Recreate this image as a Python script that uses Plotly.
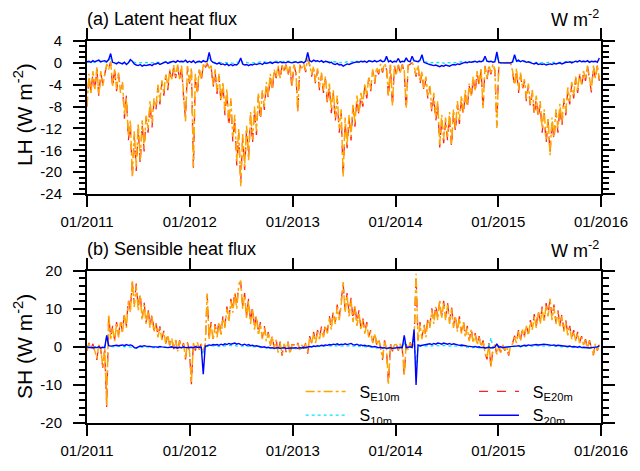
import pandas as pd
import plotly.graph_objects as go

# Weekly samples, 2011-01-01 .. 2015-12-26
dates = pd.date_range("2011-01-01", periods=261, freq="7D")

# ---- (a) latent heat flux, W m-2 ----
lh_e10m = [
    # 2011
    -7.8, -2.0, -5.8, -1.5, -4.8,  -0.8, -5.8, -1.5, -4.2,  -1.8, -0.2, -1.2, 0.1,
    -4.2, -1.2, -4.8, -1.8, -5.5,  -3.5, -9.5, -6.5, -13.5,  -10.5, -20.8, -12.5, -19.0,
    -11.0, -17.8, -10.5, -15.5, -9.5,  -12.0, -7.0, -11.0, -6.5,  -8.0, -4.0, -7.0, -3.2,
    -5.5, -2.0, -4.5, -1.2, -3.0,  -0.4, -2.5, -0.3, -3.0,  -0.5, -5.8, -10.7, -0.6, -3.5,
    # 2012
    -1.0, -19.0, -2.0, -5.5,  -1.0, -3.0, -0.3, -0.8,  0.0, -1.0, -0.5, -4.0, -1.2,
    -5.2, -2.0, -6.8, -3.5,  -9.0, -4.8, -11.0, -6.5,  -13.5, -9.5, -18.0, -12.0, -22.6,
    -13.0, -19.0, -11.5, -17.8,  -9.0, -14.0, -8.0, -12.5,  -5.5, -10.0, -5.0, -8.0, -3.5,
    -6.0, -2.0, -4.8, -1.2,  -2.5, -0.5, -2.8, -0.4,  -1.5, -0.2, -2.0, -0.5, -4.2,
    # 2013
    -0.3, -1.5, -8.9, -0.3,  -1.0, -0.1, -1.4, 0.8,  -0.3, -2.2, -0.6, -3.5, -1.0,
    -4.5, -1.8, -5.0, -2.5,  -7.0, -3.8, -8.5, -5.0,  -10.0, -6.0, -12.0, -8.5, -20.8,
    -10.0, -15.0, -9.5, -13.5,  -7.5, -11.0, -6.0, -9.0, -5.5,  -7.5, -3.8, -6.0, -2.5,
    -4.8, -1.2, -3.5, -0.8,  -1.8, -0.2, -1.5, -0.1, -1.0,  -6.0, -0.3, -7.8, -0.5,
    # 2014
    -2.0, -0.3, -1.8, -0.2,  -1.5, -8.2, -0.4, -0.1,  0.0, -0.6, -2.2, -0.4, -3.5,
    -1.5, -4.8, -2.5, -6.0,  -4.0, -8.5, -5.5, -10.0, -7.0,  -15.1, -9.5, -14.0, -10.0,
    -13.5, -9.0, -15.0, -8.5,  -12.0, -7.0, -10.5, -6.0, -9.0,  -5.0, -7.8, -3.8, -6.0,
    -2.5, -5.0, -1.5, -3.8,  -1.0, -8.3, -0.5, -2.8, -0.4,  -1.8, -0.2, -1.2, -11.9,
    # 2015
    0.0, 0.0, -0.1, 0.0, 0.0,  -0.1, 0.0, -1.5, -4.0,  -1.0, -5.0, -1.8, -4.5,
    -3.0, -6.5, -3.8, -7.5,  -5.0, -9.0, -6.0, -9.5, -7.0,  -12.0, -8.5, -14.0, -10.0,
    -16.9, -10.0, -13.5, -8.5,  -12.0, -7.5, -11.0, -6.5, -9.0,  -4.5, -7.0, -3.5, -6.0,
    -2.5, -5.0, -2.0, -4.0, -1.5,  -3.0, -0.5, -2.5, -5.0,  -0.5, -2.8, -0.4, -3.0,
]
lh_e20m = [
    # 2011
    -8.0, -2.4, -5.4, -1.9, -5.2,  -1.0, -6.2, -1.8, -3.9,  -2.0, -0.3, -1.0, 0.2,
    -4.6, -1.0, -5.2, -2.1, -5.0,  -3.9, -10.2, -6.0, -14.2,  -11.2, -21.0, -13.4, -19.8,
    -11.8, -18.6, -11.2, -16.2, -10.0,  -12.8, -7.6, -11.8, -7.0,  -8.6, -4.5, -7.6, -3.6,
    -6.0, -2.3, -5.0, -1.5, -3.4,  -0.6, -2.8, -0.5, -3.3,  -0.7, -6.2, -10.2, -0.8, -3.8,
    # 2012
    -1.3, -19.3, -2.4, -6.0,  -1.3, -3.4, -0.4, -1.0,  0.0, -1.2, -0.7, -4.4, -1.5,
    -5.7, -2.4, -7.4, -3.9,  -9.6, -5.3, -11.8, -7.0,  -14.4, -10.2, -18.8, -12.8, -22.0,
    -13.8, -19.6, -12.2, -17.2,  -9.6, -14.8, -8.6, -13.2,  -6.0, -10.6, -5.4, -8.6, -3.9,
    -6.5, -2.3, -5.3, -1.5,  -2.8, -0.7, -3.1, -0.5,  -1.7, -0.3, -2.3, -0.7, -4.6,
    # 2013
    -0.4, -1.8, -9.3, -0.4,  -1.2, -0.2, -1.7, 0.6,  -0.4, -2.5, -0.8, -3.9, -1.3,
    -5.0, -2.1, -5.5, -2.9,  -7.6, -4.2, -9.2, -5.5,  -10.8, -6.6, -12.8, -9.2, -21.0,
    -10.8, -15.6, -10.2, -14.2,  -8.1, -11.7, -6.6, -9.6, -6.0,  -8.0, -4.2, -6.5, -2.8,
    -5.2, -1.4, -3.9, -1.0,  -2.1, -0.3, -1.8, -0.2, -1.2,  -6.4, -0.4, -8.0, -0.6,
    # 2014
    -2.3, -0.4, -2.1, -0.3,  -1.8, -8.6, -0.5, -0.2,  0.0, -0.8, -2.5, -0.5, -3.9,
    -1.8, -5.3, -2.9, -6.6,  -4.5, -9.2, -6.1, -10.7, -7.6,  -15.5, -10.2, -14.7, -10.8,
    -14.2, -9.7, -15.4, -9.1,  -12.7, -7.6, -11.2, -6.5, -9.6,  -5.5, -8.4, -4.2, -6.5,
    -2.8, -5.5, -1.8, -4.2,  -1.2, -8.6, -0.6, -3.1, -0.5,  -2.1, -0.3, -1.4, -11.5,
    # 2015
    0.0, 0.0, -0.1, 0.0, 0.0,  -0.1, 0.0, -1.7, -4.4,  -1.2, -5.5, -2.1, -4.9,
    -3.4, -7.1, -4.2, -8.1,  -5.5, -9.7, -6.6, -10.2, -7.6,  -12.8, -9.2, -14.8, -10.7,
    -16.5, -10.8, -14.2, -9.1,  -12.8, -8.1, -11.7, -7.0, -9.6,  -5.0, -7.6, -3.9, -6.5,
    -2.8, -5.5, -2.3, -4.4, -1.7,  -3.3, -0.6, -2.8, -5.4,  -0.6, -3.1, -0.5, -3.3,
]
lh_10m = [
    # 2011
    0.1, 0.2, 0.1, 0.2, 0.1,  0.2, 0.3, 0.1, 0.2,  0.2, 0.1, 0.3, 1.0,
    0.1, 0.1, 0.0, 0.1, 0.0,  0.0, 0.1, 0.0, 0.1,  0.3, 0.2, 0.1, 0.0,
    0.1, 0.0, 0.1, 0.0, 0.1,  0.0, 0.1, 0.0, 0.1,  0.1, 0.0, 0.1, 0.1,
    0.1, 0.2, 0.1, 0.2, 0.2,  0.2, 0.1, 0.3, 0.2,  0.2, 0.1, 0.3, 0.1, 0.2,
    # 2012
    0.1, 0.3, 0.1, 0.2,  0.2, 0.1, 0.3, 0.2,  0.2, 1.2, 0.3, 0.1, 0.1,
    0.0, 0.1, 0.0, 0.1,  0.0, 0.1, 0.0, 0.0,  -0.1, 0.0, 0.1, 0.2, 0.6,
    0.1, 0.0, 0.1, 0.0,  0.1, 0.0, 0.1, 0.1,  0.1, 0.2, 0.1, 0.2, 0.1,
    0.2, 0.2, 0.1, 0.3,  0.3, 0.2, 0.3, 0.2,  0.3, 0.2, 0.3, 0.2, 0.2,
    # 2013
    0.2, 0.3, 0.2, 0.2,  0.3, 0.2, 0.3, 1.2,  0.3, 0.2, 0.3, 0.2, 0.3,
    0.2, 0.3, 0.2, 0.2,  0.2, 0.1, 0.2, 0.1,  0.1, 0.2, 0.0, 0.1, 0.0,
    0.1, 0.2, 0.1, 0.2,  0.2, 0.2, 0.3, 0.2, 0.3,  0.2, 0.3, 0.2, 0.3,
    0.3, 0.2, 0.3, 0.2,  0.3, 0.4, 0.2, 0.3, 0.8,  0.2, 0.3, 0.2, 0.3,
    # 2014
    0.2, 0.5, 0.2, 0.3,  0.2, 0.6, 0.3, 0.2,  0.8, 0.3, 0.3, 0.2, 0.4,
    1.0, 0.2, 0.1, 0.1,  0.1, 0.0, 0.1, 0.0, 0.1,  0.0, 0.1, -0.1, 0.0,
    0.1, 0.0, 0.1, 0.1,  0.0, 0.1, 0.1, 0.2, 0.1,  0.2, 0.1, 0.2, 0.2,
    0.2, 0.3, 0.2, 0.3,  0.2, 0.3, 0.8, 0.3, 0.2,  0.3, 0.2, 0.2, 1.4,
    # 2015
    0.1, 0.0, 0.0, 0.0, 0.0,  0.0, 0.0, 0.1, 1.0,  0.2, 0.3, 0.2, 0.3,
    0.2, 0.1, 0.2, 0.1,  0.1, 0.0, 0.1, 0.0, 0.1,  0.0, 0.1, 0.0, 0.1,
    0.1, 0.0, 0.1, 0.1,  0.1, 0.1, 0.0, 0.1, 0.2,  0.2, 0.2, 0.1, 0.2,
    0.2, 0.2, 0.3, 0.2, 0.3,  0.2, 0.3, 0.2, 0.3,  0.2, 0.3, 0.2, 0.6,
]
lh_20m = [
    # 2011
    0.2, 0.3, 0.1, 0.4, 0.2,  0.3, 0.5, 0.2, 0.3,  0.4, 0.2, 0.6, 1.7,
    0.1, 0.0, -0.2, 0.1, -0.1,  -0.2, 0.1, -0.3, 0.0,  0.6, 0.3, -0.2, -0.4,
    -0.5, -0.3, -0.6, -0.4, -0.5,  -0.4, -0.3, -0.5, -0.2,  -0.2, 0.0, -0.3, -0.1,
    0.0, 0.2, -0.1, 0.1, 0.2,  0.3, 0.1, 0.4, 0.2,  0.3, 0.2, 0.5, 0.1, 0.3,
    # 2012
    0.1, 0.4, 0.0, 0.2,  0.3, 0.1, 0.4, 0.2,  0.3, 1.9, 0.4, 0.1, -0.1,
    -0.2, 0.0, -0.3, -0.2,  -0.4, -0.2, -0.5, -0.3,  -0.5, -0.3, -0.4, 0.0, 0.9,
    -0.2, -0.4, -0.3, -0.5,  -0.3, -0.4, -0.2, -0.3,  -0.2, -0.1, -0.3, 0.0, -0.1,
    0.0, 0.1, -0.1, 0.1,  0.1, 0.0, 0.2, 0.0,  0.1, 0.0, 0.2, 0.1, 0.0,
    # 2013
    0.1, 0.2, 0.0, 0.1,  0.2, 0.0, 0.3, 1.9,  0.4, 0.2, 0.5, 0.3, 0.4,
    0.2, 0.4, 0.1, 0.3,  0.2, 0.0, 0.1, -0.2,  -0.3, -0.1, -0.4, -0.3, -0.6,
    -0.4, -0.2, -0.3, -0.1,  0.0, 0.1, 0.2, 0.1, 0.3,  0.2, 0.3, 0.1, 0.4,
    0.3, 0.2, 0.4, 0.2,  0.3, 0.5, 0.2, 0.3, 1.2,  0.2, 0.4, 0.1, 0.3,
    # 2014
    0.2, 0.8, 0.1, 0.3,  0.2, 0.9, 0.3, 0.2,  1.2, 0.4, 0.3, 0.2, 0.5,
    1.5, 0.1, -0.1, -0.2,  -0.3, -0.4, -0.5, -0.4, -0.6,  -0.7, -0.5, -0.6, -0.4,
    -0.5, -0.6, -0.4, -0.3,  -0.4, -0.2, -0.3, -0.1, 0.0,  0.1, 0.0, 0.2, 0.1,
    0.2, 0.3, 0.1, 0.3,  0.2, 0.4, 1.2, 0.3, 0.2,  0.3, 0.1, 0.2, 2.0,
    # 2015
    0.1, 0.0, 0.0, 0.0, 0.0,  0.0, 0.0, 0.2, 1.5,  0.3, 0.5, 0.2, 0.4,
    0.3, 0.1, 0.2, 0.0,  -0.1, -0.2, 0.0, -0.3, -0.2,  -0.3, -0.2, -0.4, -0.3,
    -0.2, -0.3, -0.1, -0.2,  -0.1, 0.0, -0.2, 0.0, 0.1,  0.1, 0.2, 0.0, 0.2,
    0.3, 0.2, 0.4, 0.2, 0.3,  0.2, 0.4, 0.1, 0.3,  0.2, 0.3, 0.1, 0.9,
]

# ---- (b) sensible heat flux, W m-2 ----
sh_e10m = [
    # 2011
    -0.8, 0.8, -0.5, 0.6, -1.2,  -3.0, 0.5, -0.6, -5.2,  -0.5, -15.5, 8.5, 2.0,
    5.0, 1.5, 6.0, 2.5, 6.5,  3.5, 8.5, 5.0, 12.0,  9.0, 17.4, 10.5, 16.0,
    9.5, 13.5, 7.0, 11.0, 6.0,  9.5, 5.0, 8.0, 4.0,  6.0, 2.5, 5.0, 1.8,
    3.8, 0.8, 3.0, 0.2, 2.2,  -0.5, 1.8, -1.2, 1.5,  -0.5, 0.8, -3.0, 1.0, -1.0,
    # 2012
    -9.5, 1.0, -0.8, 1.2,  -0.6, 0.8, -1.0, 0.4,  14.0, 2.0, 6.0, 1.8, 5.5,
    2.5, 6.5, 3.0, 7.5,  5.0, 10.0, 6.5, 12.0,  9.0, 14.0, 10.0, 16.0, 17.4,
    10.0, 13.5, 7.5, 12.0,  6.0, 10.0, 4.5, 8.0,  3.0, 6.0, 2.0, 5.0, 1.5,
    3.5, 0.2, 2.8, -0.5,  1.8, -1.5, 1.2, -2.0,  0.8, -1.2, 1.2, -1.8, 0.5,
    # 2013
    0.5, -0.6, 0.8, -0.8,  0.5, -0.4, 0.8, -1.5,  2.5, 0.8, 3.5, 1.0, 4.0,
    2.0, 4.8, 2.5, 5.5,  3.5, 7.5, 4.5, 9.0,  6.0, 10.5, 7.0, 11.0, 17.0,
    9.0, 13.5, 8.0, 12.3,  6.5, 10.5, 5.5, 9.0, 4.5,  7.0, 3.5, 6.0, 2.5,
    4.0, 1.0, 3.5, 0.5,  2.0, -0.2, -3.0, 1.5, -0.5,  -9.7, 0.8, -1.0, 0.5,
    # 2014
    0.6, -0.8, 0.8, -0.5,  -7.3, 0.6, -0.8, 1.0,  -0.5, 1.5, 19.2, 1.5, 6.0,
    2.0, 5.5, 2.5, 7.0,  5.0, 9.5, 6.0, 10.5, 7.0,  12.3, 7.5, 11.5, 7.0,
    11.0, 6.0, 10.0, 5.0,  8.0, 4.0, 7.5, 3.5, 6.5,  2.5, 5.0, 1.5, 4.5,
    1.0, 3.2, 0.5, 2.5,  0.0, 1.5, -1.5, -3.0, 0.8,  -5.2, -0.5, 0.6, -2.0,
    # 2015
    0.2, -1.5, 0.4, -0.8, 0.2,  -2.0, 0.3, 0.8, 2.5,  1.0, 4.0, 1.5, 4.5,
    2.5, 5.5, 3.0, 6.5,  4.5, 8.0, 5.0, 9.0, 6.0,  10.0, 6.5, 11.0, 8.0,
    12.7, 7.0, 10.5, 6.0,  9.0, 5.0, 8.0, 4.0, 6.5,  3.0, 5.0, 2.0, 4.0,
    1.5, 3.5, 1.0, 2.5, 0.5,  1.8, -0.5, 1.5, 0.0,  -2.0, 0.8, -0.8, 0.6,
]
sh_e20m = [
    # 2011
    -1.0, 1.0, -0.7, 0.8, -1.4,  -3.4, 0.7, -0.8, -5.5,  -0.7, -15.8, 8.2, 2.4,
    5.5, 1.8, 6.5, 2.9, 7.0,  3.9, 9.0, 5.5, 12.6,  9.6, 17.0, 11.2, 16.6,
    10.2, 14.2, 7.5, 11.6, 6.4,  10.1, 5.4, 8.6, 4.4,  6.5, 2.8, 5.4, 2.1,
    4.2, 1.0, 3.3, 0.4, 2.5,  -0.6, 2.0, -1.4, 1.7,  -0.6, 1.0, -3.3, 1.2, -1.2,
    # 2012
    -9.8, 1.2, -1.0, 1.4,  -0.7, 1.0, -1.2, 0.5,  13.6, 2.4, 6.5, 2.1, 6.0,
    2.9, 7.0, 3.4, 8.1,  5.5, 10.6, 7.0, 12.6,  9.6, 14.7, 10.6, 16.6, 17.0,
    10.7, 14.1, 8.0, 12.6,  6.5, 10.6, 4.9, 8.6,  3.4, 6.5, 2.3, 5.5, 1.8,
    3.9, 0.3, 3.1, -0.6,  2.0, -1.7, 1.4, -2.3,  1.0, -1.4, 1.4, -2.0, 0.6,
    # 2013
    0.6, -0.7, 1.0, -1.0,  0.6, -0.5, 1.0, -1.8,  2.8, 1.0, 3.9, 1.2, 4.4,
    2.3, 5.3, 2.9, 6.0,  3.9, 8.1, 5.0, 9.6,  6.5, 11.1, 7.6, 11.7, 16.6,
    9.6, 14.1, 8.6, 12.9,  7.0, 11.1, 6.0, 9.6, 4.9,  7.5, 3.9, 6.5, 2.8,
    4.4, 1.2, 3.9, 0.6,  2.3, -0.3, -3.4, 1.7, -0.6,  -9.9, 1.0, -1.2, 0.6,
    # 2014
    0.7, -1.0, 1.0, -0.6,  -7.6, 0.7, -1.0, 1.2,  -0.6, 1.8, 18.8, 1.8, 6.5,
    2.4, 6.0, 2.9, 7.6,  5.5, 10.1, 6.5, 11.1, 7.6,  12.0, 8.1, 12.1, 7.6,
    11.6, 6.5, 10.6, 5.5,  8.6, 4.4, 8.0, 3.9, 7.0,  2.8, 5.5, 1.8, 4.9,
    1.2, 3.6, 0.6, 2.8,  0.0, 1.7, -1.7, -3.3, 1.0,  -5.5, -0.6, 0.7, -2.2,
    # 2015
    0.3, -1.7, 0.5, -1.0, 0.3,  -2.3, 0.4, 1.0, 2.9,  1.2, 4.4, 1.8, 4.9,
    2.9, 6.0, 3.4, 7.0,  4.9, 8.6, 5.5, 9.6, 6.5,  10.6, 7.0, 11.5, 8.6,
    12.4, 7.6, 11.1, 6.5,  9.6, 5.5, 8.6, 4.4, 7.0,  3.4, 5.5, 2.3, 4.4,
    1.7, 3.9, 1.2, 2.8, 0.6,  2.0, -0.6, 1.7, 0.0,  -2.2, 1.0, -1.0, 0.7,
]
sh_10m = [
    # 2011
    0.0, -0.1, 0.0, -0.2, 0.0,  -0.1, 0.0, -0.2, -0.1,  -0.1, 2.8, 0.2, 0.1,
    0.1, 0.0, 0.2, 0.1, 0.1,  0.2, 0.0, 0.2, 0.1,  0.1, -0.1, -0.3, -0.4,
    -0.2, 0.0, -0.1, 0.1, 0.0,  0.0, -0.1, -0.2, -0.1,  -0.2, -0.3, -0.1, -0.2,
    -0.2, -0.1, -0.3, -0.2, -0.1,  -0.3, -0.2, -0.3, -0.2,  -0.2, -0.1, -0.3, -0.2, -0.2,
    # 2012
    -0.2, -0.3, -0.1, -0.2,  -0.2, -0.1, -2.0, 0.0,  0.1, 0.2, 0.1, 0.3, 0.2,
    0.3, 0.1, 0.3, 0.2,  0.3, 0.2, 0.4, 0.3,  0.3, 0.4, 0.2, 0.3, 0.2,
    0.2, 0.3, 0.1, 0.2,  0.1, 0.1, 0.0, 0.1,  -0.1, -0.2, -0.2, -0.1, -0.3,
    -0.2, -0.4, -0.3, -0.4,  -0.4, -0.3, -0.5, -0.4,  -0.3, -0.5, -0.4, -0.3, -0.4,
    # 2013
    -0.4, -0.3, -0.5, -0.3,  -0.4, -0.2, -0.3, -0.1,  0.0, -0.1, 0.1, 0.0, 0.1,
    0.1, 0.2, 0.1, 0.2,  0.2, 0.3, 0.2, 0.3,  0.2, 0.3, 0.2, 0.3, 0.2,
    0.3, 0.2, 0.3, 0.4,  0.2, 0.2, 0.3, 0.1, 0.2,  0.0, 0.1, -0.1, 0.0,
    -0.1, -0.2, -0.1, -0.3,  -0.3, -0.2, -0.4, -0.3, -0.5,  -0.4, -0.3, -0.5, -0.4,
    # 2014
    -0.3, -0.4, -0.2, -0.3,  1.5, -0.3, -0.2, -0.1,  -0.3, 2.5, -5.0, 0.2, 0.1,
    0.2, 0.3, 0.2, 0.3,  0.3, 0.2, 0.4, 0.3, 0.4,  0.3, 0.2, 0.4, 0.3,
    0.2, 0.3, 0.2, 0.3,  0.2, 0.1, 0.1, 0.2, 0.0,  0.0, -0.1, -0.2, -0.1,
    -0.2, -0.1, -0.3, -0.2,  -0.3, -0.2, -0.4, -0.3, -0.2,  2.4, -0.3, -0.2, 0.4,
    # 2015
    -0.2, -0.1, -0.3, -0.2, -0.1,  -0.2, -0.1, 0.0, 0.1,  0.1, 0.2, 0.0, 0.1,
    0.2, 0.1, 0.2, 0.2,  0.2, 0.1, 0.3, 0.2, 0.3,  0.2, 0.3, 0.2, 0.2,
    0.3, 0.1, 0.2, 0.1,  0.1, 0.1, 0.0, 0.1, 0.0,  -0.1, 0.0, -0.2, -0.1,
    -0.2, -0.3, -0.1, -0.3, -0.2,  -0.3, -0.2, -0.4, -0.3,  -0.2, -0.3, -0.1, 0.1,
]
sh_20m = [
    # 2011
    0.0, -0.2, -0.1, -0.3, -0.1,  -0.2, 0.0, -0.3, -0.1,  -0.2, 3.0, 0.3, 0.2,
    0.3, 0.2, 0.4, 0.3, 0.4,  0.5, 0.3, 0.6, 0.4,  0.5, 0.3, -0.2, -0.3,
    0.0, 0.2, 0.1, 0.3, 0.2,  0.2, 0.1, 0.0, 0.1,  0.0, -0.1, 0.1, 0.0,
    -0.1, 0.0, -0.2, -0.1, 0.0,  -0.2, -0.1, -0.3, -0.1,  -0.2, 0.0, -0.2, -0.1, -0.2,
    # 2012
    -0.1, -0.2, 0.0, -0.1,  -0.2, -0.1, -7.2, 0.2,  0.3, 0.5, 0.4, 0.6, 0.5,
    0.6, 0.4, 0.7, 0.5,  0.8, 0.6, 0.9, 0.7,  0.8, 1.0, 0.7, 0.9, 0.6,
    0.5, 0.7, 0.4, 0.6,  0.3, 0.4, 0.2, 0.3,  0.1, 0.0, -0.1, 0.0, -0.2,
    -0.1, -0.3, -0.2, -0.4,  -0.3, -0.2, -0.4, -0.3,  -0.2, -0.4, -0.3, -0.2, -0.3,
    # 2013
    -0.3, -0.2, -0.4, -0.2,  -0.3, -0.1, -0.2, 0.0,  0.1, 0.0, 0.2, 0.1, 0.3,
    0.2, 0.4, 0.3, 0.5,  0.4, 0.6, 0.5, 0.7,  0.6, 0.8, 0.5, 0.7, 0.6,
    0.8, 0.6, 0.7, 0.9,  0.6, 0.5, 0.7, 0.4, 0.5,  0.3, 0.4, 0.2, 0.3,
    0.1, 0.0, 0.1, -0.1,  -0.2, -0.1, -0.3, -0.2, -0.4,  -0.3, -0.2, -0.4, -0.3,
    # 2014
    -0.2, -0.3, -0.1, -0.2,  3.0, -0.2, -0.1, 0.0,  -0.2, 4.6, -10.0, 0.5, 0.3,
    0.4, 0.6, 0.5, 0.7,  0.8, 0.6, 0.9, 0.7, 1.0,  0.9, 0.7, 1.0, 0.8,
    0.7, 0.9, 0.6, 0.8,  0.6, 0.5, 0.4, 0.5, 0.3,  0.3, 0.2, 0.1, 0.2,
    0.0, 0.1, -0.1, 0.0,  -0.2, -0.1, -0.3, -0.2, -0.1,  -0.3, -0.2, -0.1, 0.8,
    # 2015
    -0.1, 0.0, -0.2, -0.1, 0.0,  -0.1, 0.0, 0.1, 0.2,  0.2, 0.3, 0.1, 0.3,
    0.4, 0.3, 0.5, 0.4,  0.5, 0.4, 0.6, 0.5, 0.6,  0.5, 0.7, 0.6, 0.5,
    0.6, 0.4, 0.5, 0.3,  0.4, 0.3, 0.2, 0.3, 0.2,  0.1, 0.2, 0.0, 0.1,
    0.0, -0.1, 0.1, -0.2, -0.1,  -0.2, -0.1, -0.3, -0.2,  -0.1, -0.2, 0.0, 0.3,
]

for name, arr in [("lh_e10m", lh_e10m), ("lh_e20m", lh_e20m), ("lh_10m", lh_10m),
                  ("lh_20m", lh_20m), ("sh_e10m", sh_e10m), ("sh_e20m", sh_e20m),
                  ("sh_10m", sh_10m), ("sh_20m", sh_20m)]:
    assert len(arr) == len(dates), (name, len(arr))

year_ticks = pd.date_range("2011-01-01", "2016-01-01", freq="YS")
lh_ticks = list(range(-24, 5, 4))
sh_ticks = [-20, -10, 0, 10, 20]

FONT = "Liberation Sans, Arial, sans-serif"
GAP = "\u00a0\u00a0"

# series styles: (label, colour, dash, width, legend, rank)
styles = {
    "e20m": (GAP + "S<sub>E20m</sub>", "#FF2020", "dash", 1.3, "legend2", 1),
    "e10m": (GAP + "S<sub>E10m</sub>", "#FFA500", "dashdot", 1.5, "legend", 1),
    "10m": (GAP + "S<sub>10m</sub>", "#00E5FF", "dot", 1.3, "legend", 2),
    "20m": (GAP + "S<sub>20m</sub>", "#0000FF", "solid", 1.4, "legend2", 2),
}

fig = go.Figure()
panels = [
    ("x", "y", {"e20m": lh_e20m, "e10m": lh_e10m, "10m": lh_10m, "20m": lh_20m}, False),
    ("x2", "y2", {"e20m": sh_e20m, "e10m": sh_e10m, "10m": sh_10m, "20m": sh_20m}, True),
]
for xa, ya, series, show in panels:
    for key in ["e20m", "e10m", "10m", "20m"]:
        label, color, dash, width, leg, rank = styles[key]
        fig.add_trace(go.Scatter(
            x=dates, y=series[key], mode="lines", name=label,
            line=dict(color=color, dash=dash, width=width),
            xaxis=xa, yaxis=ya, showlegend=show, legend=leg,
            legendrank=rank, legendgroup=key, hoverinfo="skip",
        ))

axis_common = dict(
    showline=True, linecolor="black", linewidth=2, mirror="allticks",
    ticks="outside", tickcolor="black", tickwidth=2, showgrid=False,
    zeroline=False, tickfont=dict(family=FONT, size=15, color="black"),
)
legend_common = dict(
    y=0.127, xanchor="left", yanchor="top", orientation="v",
    bgcolor="rgba(0,0,0,0)", tracegroupgap=0, itemwidth=40,
    font=dict(family=FONT, size=16, color="black"),
)
fig.update_layout(
    width=640, height=471,
    margin=dict(l=87, r=31, t=41, b=38),
    paper_bgcolor="white", plot_bgcolor="white",
    font=dict(family=FONT, color="black"),
    xaxis=dict(domain=[0, 1], anchor="y", type="date",
               range=["2011-01-01", "2016-01-01"], tickvals=year_ticks,
               tickformat="%m/%Y", ticklen=11, ticklabelstandoff=2, **axis_common),
    yaxis=dict(domain=[0.5995, 1], anchor="x", range=[-24, 4],
               tickvals=lh_ticks, ticktext=[str(v) for v in lh_ticks],
               ticklen=12, ticklabelstandoff=8,
               minor=dict(dtick=1, ticks="outside", ticklen=6, tickwidth=1.5,
                          tickcolor="black"),
               **axis_common),
    xaxis2=dict(domain=[0, 1], anchor="y2", type="date",
                range=["2011-01-01", "2016-01-01"], tickvals=year_ticks,
                tickformat="%m/%Y", ticklen=11, ticklabelstandoff=2, **axis_common),
    yaxis2=dict(domain=[0, 0.3987], anchor="x2", range=[-20, 20],
                tickvals=sh_ticks, ticktext=[str(v) for v in sh_ticks],
                ticklen=12, ticklabelstandoff=8,
                minor=dict(dtick=2, ticks="outside", ticklen=6, tickwidth=1.5,
                           tickcolor="black"),
                **axis_common),
    legend=dict(x=(304 - 87) / 522, **legend_common),
    legend2=dict(x=(480 - 87) / 522, **legend_common),
)

def paper_y(py):
    return (471 - 38 - py) / 392

def paper_x(px):
    return (px - 87) / 522

annotations = [
    dict(text="(a) Latent heat flux", x=paper_x(85), y=paper_y(18),
         xanchor="left", yanchor="middle", font=dict(size=18)),
    dict(text="W m<sup>-2</sup>", x=paper_x(609), y=paper_y(18),
         xanchor="right", yanchor="middle", font=dict(size=18)),
    dict(text="(b) Sensible heat flux", x=paper_x(85), y=paper_y(254),
         xanchor="left", yanchor="middle", font=dict(size=18)),
    dict(text="W m<sup>-2</sup>", x=paper_x(609), y=paper_y(255),
         xanchor="right", yanchor="middle", font=dict(size=18)),
    dict(text="LH (W m<sup>-2</sup>)", x=paper_x(22), y=paper_y(116),
         xanchor="center", yanchor="middle", textangle=-90, font=dict(size=21)),
    dict(text="SH (W m<sup>-2</sup>)", x=paper_x(22), y=paper_y(354),
         xanchor="center", yanchor="middle", textangle=-90, font=dict(size=21)),
]
for a in annotations:
    a.update(xref="paper", yref="paper", showarrow=False)
    a["font"].update(family=FONT, color="black")
fig.update_layout(annotations=annotations)

fig.write_html("out.html")
